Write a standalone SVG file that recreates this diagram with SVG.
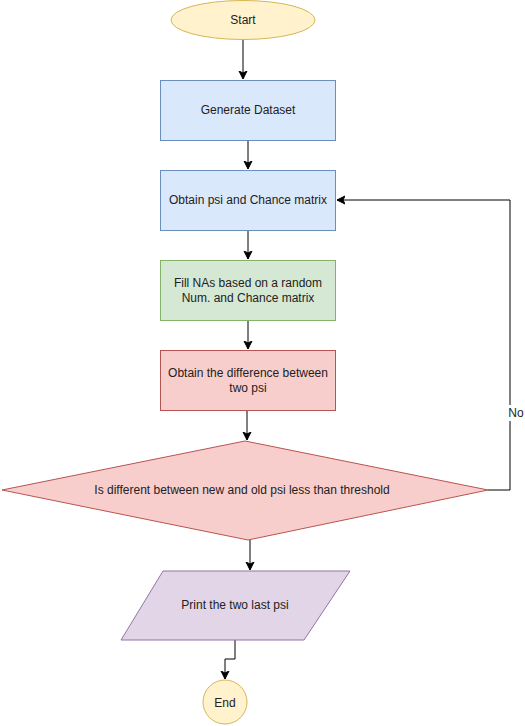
<svg xmlns="http://www.w3.org/2000/svg" width="525" height="726" viewBox="0 0 525 726">
<style>
text{font-family:"Liberation Sans",Arial,sans-serif;font-size:12px;fill:#222;text-anchor:middle;dominant-baseline:central}
.c{fill:none;stroke:#000;stroke-width:1}
</style>
<defs>
<marker id="a" markerWidth="10" markerHeight="10" refX="8" refY="5" orient="auto" markerUnits="userSpaceOnUse">
<path d="M0,1 L8,5 L0,9 L2,5 Z" fill="#000" stroke="#000" stroke-width="1"/>
</marker>
</defs>
<rect width="525" height="726" fill="#fff"/>
<g id="connectors">
<path class="c" d="M243,40 V79" marker-end="url(#a)"/>
<path class="c" d="M248,140 V169" marker-end="url(#a)"/>
<path class="c" d="M248,230 V259" marker-end="url(#a)"/>
<path class="c" d="M248,320 V349" marker-end="url(#a)"/>
<path class="c" d="M247,410 V440" marker-end="url(#a)"/>
<path class="c" d="M488,490 H510 V200 H337" marker-end="url(#a)"/>
<path class="c" d="M250,540 V570" marker-end="url(#a)"/>
<path class="c" d="M235,640 V659 H225 V679" marker-end="url(#a)"/>
<rect x="506" y="405" width="20" height="16" fill="#fff"/>
<text x="516" y="413">No</text>
</g>
<g id="start">
<ellipse cx="243" cy="20" rx="72" ry="19.5" fill="#fff2cc" stroke="#d6b656"/>
<text x="243" y="20">Start</text>
</g>
<g id="generate">
<rect x="160.5" y="80.5" width="175" height="60" fill="#dae8fc" stroke="#6c8ebf"/>
<text x="248" y="110">Generate Dataset</text>
</g>
<g id="obtain">
<rect x="160.5" y="170.5" width="175" height="60" fill="#dae8fc" stroke="#6c8ebf"/>
<text x="248" y="200">Obtain psi and Chance matrix</text>
</g>
<g id="fill">
<rect x="160.5" y="260.5" width="175" height="60" fill="#d5e8d4" stroke="#82b366"/>
<text x="248" y="283">Fill NAs based on a random</text>
<text x="248" y="298">Num. and Chance matrix</text>
</g>
<g id="difference">
<rect x="160.5" y="350.5" width="175" height="60" fill="#f8cecc" stroke="#b85450"/>
<text x="248" y="373">Obtain the difference between</text>
<text x="248" y="388">two psi</text>
</g>
<g id="decision">
<polygon points="245,441 488,490 248,540 2,490" fill="#f8cecc" stroke="#b85450"/>
<text x="242" y="490">Is different between new and old psi less than threshold</text>
</g>
<g id="print">
<polygon points="163,571 350,571 304,640 121,640" fill="#e1d5e7" stroke="#9673a6"/>
<text x="235" y="605">Print the two last psi</text>
</g>
<g id="end">
<circle cx="225" cy="702" r="22" fill="#fff2cc" stroke="#d6b656"/>
<text x="225" y="703">End</text>
</g>
</svg>
